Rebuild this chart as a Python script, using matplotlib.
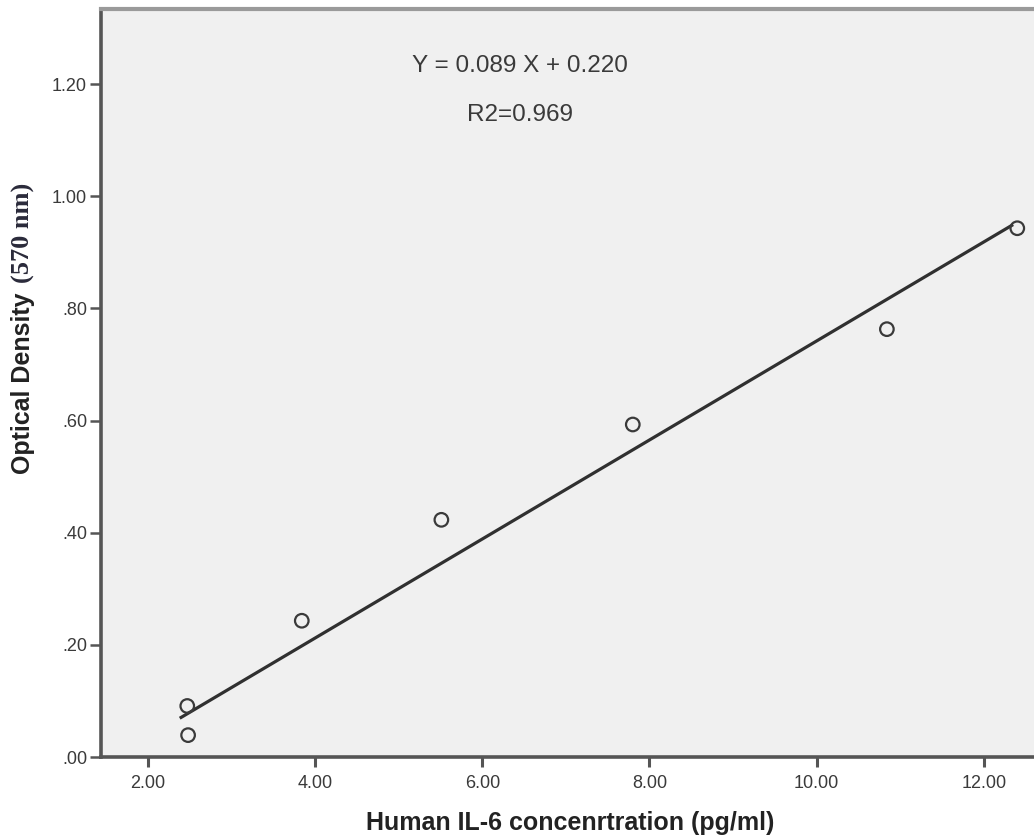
import numpy as np
import matplotlib
matplotlib.use("Agg")
import matplotlib.pyplot as plt

# IL-6 standard curve: concentration (pg/ml) vs optical density at 570 nm
concentration = [2.47, 2.48, 3.84, 5.51, 7.80, 10.84, 12.40]
optical_density = [0.091, 0.039, 0.243, 0.423, 0.593, 0.763, 0.943]

# regression line drawn over the standards
fit_slope = 0.0883
fit_intercept = -0.141

x_ticks = [2, 4, 6, 8, 10, 12]
x_tick_labels = ["2.00", "4.00", "6.00", "8.00", "10.00", "12.00"]
y_ticks = [0.0, 0.2, 0.4, 0.6, 0.8, 1.0, 1.2]
y_tick_labels = [".00", ".20", ".40", ".60", ".80", "1.00", "1.20"]

equation_text = "Y = 0.089 X + 0.220"
r2_text = "R2=0.969"

W, H = 1034, 838
fig = plt.figure(figsize=(W / 100, H / 100), dpi=100)
fig.patch.set_facecolor("white")

left, right, top, bottom = 101, 1034, 9, 757
ax = fig.add_axes([left / W, 1 - bottom / H, (right - left) / W, (bottom - top) / H])
ax.set_facecolor("#f0f0f0")

ax.set_xlim(1.438, 12.6)
ax.set_ylim(0.0, 1.334)

xs = np.array([min(concentration) - 0.09, max(concentration) - 0.05])
ax.plot(xs, fit_slope * xs + fit_intercept, color="#303030", lw=2.3, zorder=3,
        solid_capstyle="butt")

ax.scatter(concentration, optical_density, s=95, facecolors="none",
           edgecolors="#3a3a3a", linewidths=1.6, zorder=4)

for side in ("left", "bottom"):
    ax.spines[side].set_color("#555555")
    ax.spines[side].set_linewidth(2.6)
ax.spines["top"].set_color("#9a9a9a")
ax.spines["top"].set_linewidth(3.0)
ax.spines["right"].set_visible(False)

tick_font = dict(family="Liberation Sans", size=13)
ax.set_xticks(x_ticks)
ax.set_xticklabels(x_tick_labels, color="#3a3a3a", **tick_font)
ax.set_yticks(y_ticks)
ax.set_yticklabels(y_tick_labels, color="#3a3a3a", **tick_font)
ax.tick_params(axis="x", direction="out", length=7, width=2.2, color="#555555", pad=6)
ax.tick_params(axis="y", direction="out", length=8, width=1.8, color="#555555", pad=2)

ax.set_xlabel("Human IL-6 concenrtration (pg/ml)", family="Liberation Sans",
              fontweight="bold", fontsize=18, color="#222222")
ax.xaxis.set_label_coords(0.503, -0.072)

# y label: sans-serif caption followed by serif unit
fig.text(23 / W, 1 - 474 / H, "Optical Density", rotation=90, ha="center", va="bottom",
         family="Liberation Sans", fontweight="bold", fontsize=18, color="#222222")
fig.text(23 / W, 1 - 283 / H, "(570 nm)", rotation=90, ha="center", va="bottom",
         family="Liberation Serif", fontweight="bold", fontsize=19, color="#2a2a3a")

fig.text(520 / W, 1 - 66 / H, equation_text, ha="center", va="center",
         family="Liberation Sans", fontsize=17.5, color="#3a3a3a")
fig.text(520 / W, 1 - 115 / H, r2_text, ha="center", va="center",
         family="Liberation Sans", fontsize=17.5, color="#3a3a3a")

fig.savefig("out.png", dpi=100)
